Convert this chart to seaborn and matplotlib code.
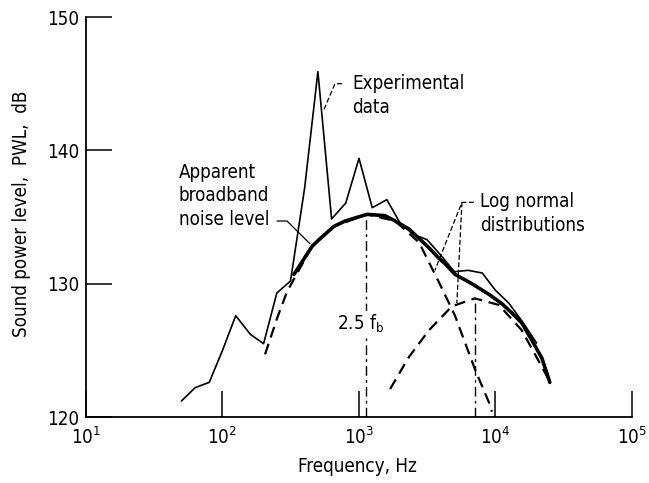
import matplotlib
matplotlib.use("Agg")
import matplotlib.pyplot as plt
import seaborn as sns
import pandas as pd

# one-third octave band centres (Hz) and measured sound power level (dB)
band_freq = [50, 63, 80, 100, 125, 160, 200, 250, 315, 400, 500, 630, 800,
             1000, 1250, 1600, 2000, 2500, 3150, 4000, 5000, 6300, 8000,
             10000, 12500, 16000, 20000]
measured_pwl = [121.2, 122.2, 122.6, 125.0, 127.6, 126.2, 125.5, 129.3, 130.2,
                137.2, 145.9, 134.85, 136.05, 139.4, 135.7, 136.3, 134.55, 133.7,
                133.3, 132.1, 130.9, 131.0, 130.8, 129.5, 128.55, 127.05, 125.55]

# apparent broadband noise level (thick curve)
broadband_freq = [334, 453, 509, 656, 791, 1145, 1550, 1840, 2320, 2750, 3250,
                  3855, 4270, 5050, 6710, 8950, 11140, 13200, 15600, 18500,
                  21900, 25000]
broadband_pwl = [130.7, 132.8, 133.3, 134.3, 134.7, 135.2, 135.1, 134.7, 134.1,
                 133.4, 132.7, 131.9, 131.5, 130.7, 130.0, 129.2, 128.5, 127.8,
                 127.05, 125.75, 124.4, 122.6]

# the two log normal distributions (dashed curves)
low_freq = [205, 251, 297, 453, 656, 1145, 1840, 2750, 3855, 4635, 5050, 5970,
            7060, 8950, 9420]
low_pwl = [124.7, 127.4, 129.4, 132.8, 134.3, 135.2, 134.7, 133.1, 130.1, 128.4,
           127.6, 125.6, 123.6, 121.1, 120.4]
high_freq = [1690, 2320, 3250, 4790, 7060, 10600, 15600, 24600]
high_pwl = [122.1, 124.5, 126.5, 128.3, 128.9, 128.4, 126.5, 122.8]

# peak of each distribution (vertical chain lines)
peak_freq = [1125, 7060]
peak_pwl = [135.2, 128.9]

# leader lines for the labels (freq, dB)
exp_leader_f = [751, 667, 545]
exp_leader_db = [145.0, 145.0, 142.9]
bb_leader_f = [251, 297, 437]
bb_leader_db = [134.7, 134.7, 133.0]
ln_leader_f = [6950, 5680, 3594]
ln_leader_db = [136.1, 136.1, 131.0]
ln_leader2_f = [5680, 5210]
ln_leader2_db = [136.1, 128.55]

x_ticks = [10, 100, 1000, 10000, 100000]
x_tick_labels = ["$10^{1}$", "$10^{2}$", "$10^{3}$", "$10^{4}$", "$10^{5}$"]
y_ticks = [120, 130, 140, 150]

sns.set_theme(style="white")
plt.rcParams['font.family'] = ['DejaVu Sans']
plt.rcParams['font.stretch'] = 'condensed'
plt.rcParams['text.color'] = 'black'
plt.rcParams['mathtext.fontset'] = 'custom'
plt.rcParams['mathtext.rm'] = 'DejaVu Sans:stretch=condensed'
plt.rcParams['mathtext.it'] = 'DejaVu Sans:stretch=condensed'

fig = plt.figure(figsize=(6.49, 4.83), dpi=100)
ax = fig.add_axes([0.1325, 0.1366, 0.8413, 0.8282])
ax.set_xscale('log')

measured = pd.DataFrame({'freq': band_freq, 'pwl': measured_pwl})
broadband = pd.DataFrame({'freq': broadband_freq, 'pwl': broadband_pwl})
low = pd.DataFrame({'freq': low_freq, 'pwl': low_pwl})
high = pd.DataFrame({'freq': high_freq, 'pwl': high_pwl})

dash = (0, (5, 3))
sns.lineplot(data=low, x='freq', y='pwl', ax=ax, color='black', linewidth=1.6,
             linestyle=dash, errorbar=None)
sns.lineplot(data=high, x='freq', y='pwl', ax=ax, color='black', linewidth=1.6,
             linestyle=dash, errorbar=None)
sns.lineplot(data=broadband, x='freq', y='pwl', ax=ax, color='black',
             linewidth=2.6, errorbar=None)
sns.lineplot(data=measured, x='freq', y='pwl', ax=ax, color='black',
             linewidth=1.2, errorbar=None)

# chain lines down to the axis at each peak
ax.vlines(peak_freq, 120, peak_pwl, colors='black', linewidth=1.0,
          linestyles=[(0, (7, 3, 2, 3))])

# leaders
ax.plot(exp_leader_f, exp_leader_db, color='black', linewidth=0.9,
        linestyle=(0, (4, 2)))
ax.plot(bb_leader_f, bb_leader_db, color='black', linewidth=0.9)
ax.plot(ln_leader_f, ln_leader_db, color='black', linewidth=0.9,
        linestyle=(0, (4, 2)))
ax.plot(ln_leader2_f, ln_leader2_db, color='black', linewidth=0.9,
        linestyle=(0, (4, 2)))

fs = 13.5
ax.text(889, 144.1, "Experimental\ndata", fontsize=fs, ha='left', va='center',
        linespacing=1.3)
ax.text(48, 136.6, "Apparent\nbroadband\nnoise level", fontsize=fs,
        ha='left', va='center', linespacing=1.3)
ax.text(7690, 135.25, "Log normal\ndistributions", fontsize=fs, ha='left',
        va='center', linespacing=1.3)
ax.text(1035, 127.0, "2.5 f$_\\mathregular{b}$", fontsize=fs, ha='center',
        va='center', bbox=dict(facecolor='white', edgecolor='none', pad=1))

ax.set_xlim(10, 100000)
ax.set_ylim(120, 150)
ax.set_xticks(x_ticks)
ax.set_xticklabels(x_tick_labels)
ax.set_yticks(y_ticks)
ax.minorticks_off()
ax.tick_params(axis='both', which='major', direction='in', length=19,
               width=1.1, color='black', labelsize=fs, labelcolor='black',
               bottom=True, left=True)
ax.tick_params(axis='x', pad=7)
ax.tick_params(axis='y', pad=5)

sns.despine(ax=ax)
for side in ['left', 'bottom']:
    ax.spines[side].set_color('black')
    ax.spines[side].set_linewidth(1.3)

ax.set_xlabel("Frequency, Hz", fontsize=fs, color='black')
ax.set_ylabel("Sound power level,  PWL,  dB", fontsize=fs, color='black')
ax.xaxis.set_label_coords(0.497, -0.1)
ax.yaxis.set_label_coords(-0.1, 0.507)

fig.savefig("out.png", dpi=100)
